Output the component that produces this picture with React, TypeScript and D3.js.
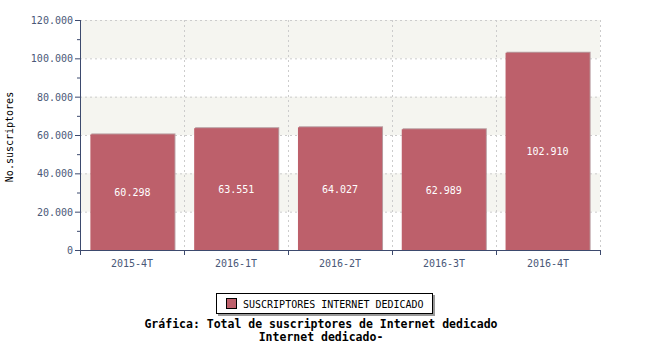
import React from "react";
import * as d3 from "d3";

const categories = ["2015-4T", "2016-1T", "2016-2T", "2016-3T", "2016-4T"];
const values = [60298, 63551, 64027, 62989, 102910];
const yTicks = [0, 20000, 40000, 60000, 80000, 100000, 120000];
const seriesName = "SUSCRIPTORES INTERNET DEDICADO";
const yLabel = "No.suscriptores";
const titleLines = ["Gráfica: Total de suscriptores de Internet dedicado", "Internet dedicado-"];

const fmt = (v: number) => (v === 0 ? "0" : d3.format(",")(v).replace(/,/g, "."));

export default function App() {
  const W = 650, H = 350;
  const left = 80, right = 600, top = 20, bottom = 250;
  const x = d3.scaleBand<string>().domain(categories).range([left, right]).paddingInner(0.19).paddingOuter(0.1);
  const xb = d3.scaleBand<string>().domain(categories).range([left, right]);
  const y = d3.scaleLinear().domain([0, 120000]).range([bottom, top]);
  const font = "'DejaVu Sans Mono', monospace";
  const axisColor = "#3d4a6e";
  const textColor = "#4a5878";
  const bars = "#bd606b";
  const minor = d3.range(10000, 120000, 20000);
  const bounds = categories.map((c) => xb(c)!).concat([right]);
  return (
    <svg width={W} height={H} style={{ position: "absolute", left: 0, top: 0 }}>
      <rect x={0} y={0} width={W} height={H} fill="#fff" />
      {yTicks.slice(0, -1).map((t, i) =>
        i % 2 === 1 ? (
          <rect key={"band" + t} x={left} y={y(t + 20000)} width={right - left} height={y(t) - y(t + 20000)} fill="#f5f5f0" />
        ) : null
      )}
      {yTicks.slice(1).map((t) => (
        <line key={"hg" + t} x1={left} x2={right} y1={y(t) + 0.5} y2={y(t) + 0.5} stroke="#cccccc" strokeDasharray="2,3" />
      ))}
      {bounds.slice(1).map((b, i) => (
        <line key={"vg" + i} x1={b + 0.5} x2={b + 0.5} y1={top} y2={bottom} stroke="#cccccc" strokeDasharray="2,3" />
      ))}
      {categories.map((c, i) => (
        <g key={c}>
          <rect x={x(c)! + 1} y={y(values[i]) - 1} width={x.bandwidth()} height={bottom - y(values[i]) + 1} fill="#b89ca0" />
          <rect x={x(c)!} y={y(values[i])} width={x.bandwidth()} height={bottom - y(values[i])} fill={bars} />
          <text x={x(c)! + x.bandwidth() / 2} y={(y(values[i]) + bottom) / 2 + 4} fill="#fff" fontFamily={font} fontSize={10} textAnchor="middle">
            {fmt(values[i])}
          </text>
          <text x={xb(c)! + xb.bandwidth() / 2} y={bottom + 17} fill={textColor} fontFamily={font} fontSize={10} textAnchor="middle">
            {c}
          </text>
        </g>
      ))}
      <line x1={left + 0.5} x2={left + 0.5} y1={top} y2={bottom + 5} stroke={axisColor} />
      <line x1={left} x2={right + 0.5} y1={bottom + 0.5} y2={bottom + 0.5} stroke={axisColor} />
      {bounds.map((b, i) => (
        <line key={"xt" + i} x1={b + 0.5} x2={b + 0.5} y1={bottom} y2={bottom + 5} stroke={axisColor} />
      ))}
      {yTicks.map((t) => (
        <g key={"yt" + t}>
          <line x1={left - 5} x2={left} y1={y(t) + 0.5} y2={y(t) + 0.5} stroke={axisColor} />
          <text x={left - 7} y={y(t) + 4} fill={textColor} fontFamily={font} fontSize={10} textAnchor="end">
            {fmt(t)}
          </text>
        </g>
      ))}
      {minor.map((t) => (
        <line key={"mt" + t} x1={left - 3} x2={left} y1={y(t) + 0.5} y2={y(t) + 0.5} stroke={axisColor} />
      ))}
      <text transform={`translate(13, ${(top + bottom) / 2 + 2}) rotate(-90)`} fill="#000" fontFamily={font} fontSize={10} textAnchor="middle">
        {yLabel}
      </text>
      <rect x={218} y={295} width={217} height={21} fill="#999" />
      <rect x={216.5} y={293.5} width={216} height={20} fill="#fff" stroke="#000" />
      <rect x={226.5} y={298.5} width={10} height={10} fill={bars} stroke="#000" />
      <text x={243} y={307.5} fill="#000" fontFamily={font} fontSize={10}>
        {seriesName}
      </text>
      {titleLines.map((l, i) => (
        <text key={i} x={321} y={328 + i * 13} fill="#000" fontFamily={font} fontSize={11.5} fontWeight="bold" textAnchor="middle">
          {l}
        </text>
      ))}
    </svg>
  );
}
